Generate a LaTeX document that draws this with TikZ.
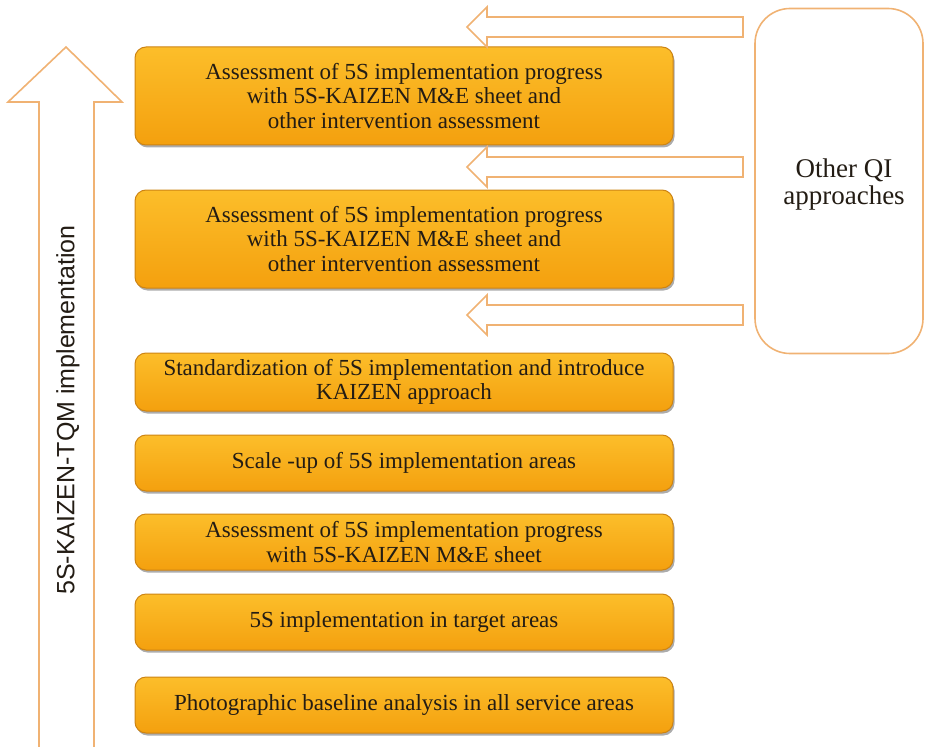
\documentclass[tikz,border=0pt]{standalone}
\usepackage{fontspec}
\setmainfont{Liberation Serif}
\setsansfont{Liberation Sans}
\usetikzlibrary{shadows}
\definecolor{boxtop}{RGB}{252,190,42}
\definecolor{boxbot}{RGB}{244,160,14}
\definecolor{boxline}{RGB}{205,132,20}
\definecolor{arrline}{RGB}{240,178,115}
\definecolor{txt}{RGB}{35,28,20}
\begin{document}
\begin{tikzpicture}[x=1pt,y=-1pt]
\useasboundingbox (0,0) rectangle (925,746);
\tikzset{
  stagebox/.style={draw=boxline, line width=1pt, rounded corners=11pt,
    top color=boxtop, bottom color=boxbot, minimum width=538pt,
    align=center, inner sep=0pt, text=txt,
    drop shadow={shadow xshift=1.5pt,shadow yshift=-2.5pt,opacity=0.5,fill=black!65},
    font=\fontsize{23}{24.5}\selectfont},
  blockarrow/.style={draw=arrline, line width=1.6pt, fill=white, line join=miter}
}
% left big arrow
\draw[blockarrow] (39,750) -- (39,102) -- (8,102) -- (66,47) -- (122,102) -- (94,102) -- (94,750);
\node[rotate=90, text=txt, font=\sffamily\fontsize{25}{28}\selectfont] (lbl) at (68,410) {5S-KAIZEN-TQM implementation};
% stage boxes
\node[stagebox, minimum height=98pt] (b1) at (404,96) {Assessment of 5S implementation progress\\with 5S-KAIZEN M\&E sheet and\\other intervention assessment};
\node[stagebox, minimum height=98pt] (b2) at (404,239) {Assessment of 5S implementation progress\\with 5S-KAIZEN M\&E sheet and\\other intervention assessment};
\node[stagebox, minimum height=58pt] (b3) at (404,382) {Standardization of 5S implementation and introduce\\KAIZEN approach};
\node[stagebox, minimum height=56pt] (b4) at (404,463) {Scale -up of 5S implementation areas};
\node[stagebox, minimum height=56pt] (b5) at (404,542) {Assessment of 5S implementation progress\\with 5S-KAIZEN M\&E sheet};
\node[stagebox, minimum height=56pt] (b6) at (404,622) {5S implementation in target areas};
\node[stagebox, minimum height=56pt] (b7) at (404,705) {Photographic baseline analysis in all service areas};
% other QI box
\node[draw=arrline, line width=1.6pt, rounded corners=35pt, minimum width=168pt, minimum height=345pt] (qi) at (839,181) {};
\node[align=center, text=txt, font=\fontsize{27}{27}\selectfont] (qitext) at (844,185) {Other QI\\approaches};
% block arrows from QI box
\foreach \yy in {27,167,315}{
  \draw[blockarrow] (743,\yy-10) -- (487,\yy-10) -- (487,\yy-20) -- (467,\yy) -- (487,\yy+20) -- (487,\yy+10) -- (743,\yy+10) -- cycle;
}
\end{tikzpicture}
\end{document}
